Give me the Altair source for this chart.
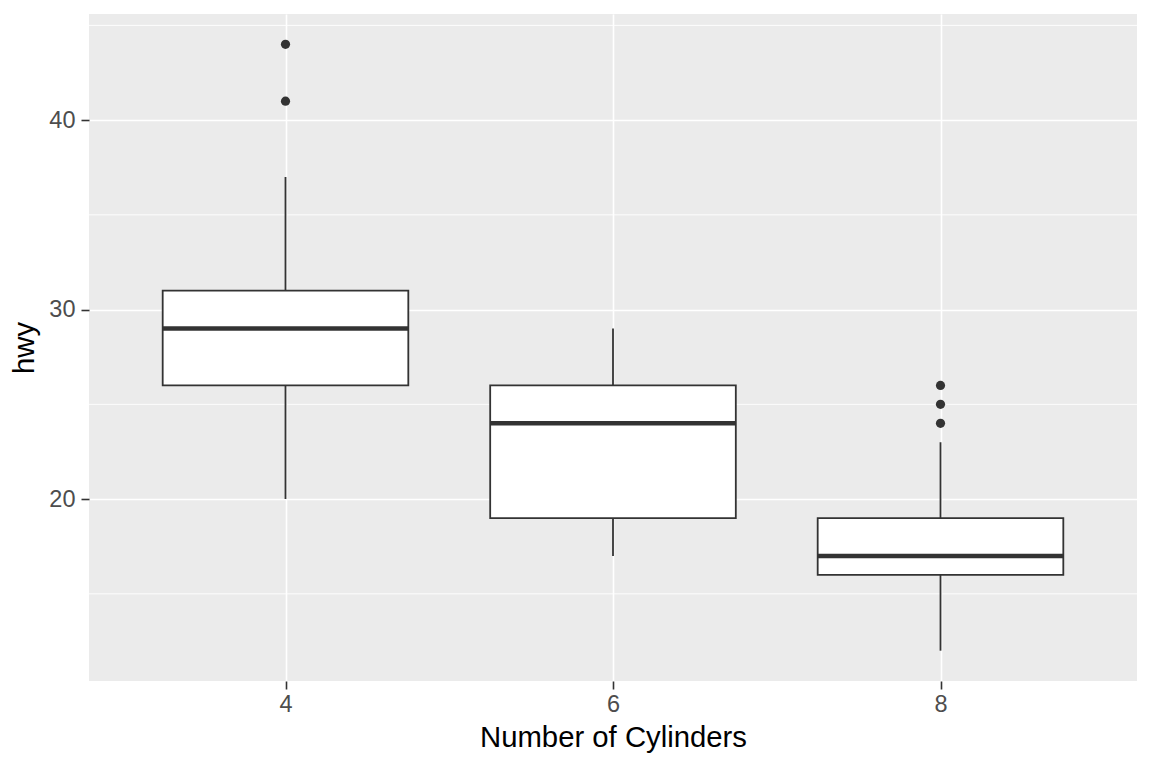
import altair as alt
import pandas as pd

# --- data (hwy by number of cylinders) ---
cyl = [4, 6, 8]
whisker_low = [20, 17, 12]
q1 = [26, 19, 16]
median = [29, 24, 17]
q3 = [31, 26, 19]
whisker_high = [37, 29, 23]

outlier_cyl = [4, 4, 8, 8, 8]
outlier_hwy = [41, 44, 24, 25, 26]

x_ticks = [4, 6, 8]
y_major = [20, 30, 40]
y_minor = [15, 25, 35, 45]

boxes = pd.DataFrame({
    "cyl": cyl, "lower": whisker_low, "q1": q1,
    "median": median, "q3": q3, "upper": whisker_high,
})
outliers = pd.DataFrame({"cyl": outlier_cyl, "hwy": outlier_hwy})
minor = pd.DataFrame({"y": y_minor})

DARK = "#333333"
xscale = alt.Scale(domain=[2.8, 9.2], nice=False, zero=False)
yscale = alt.Scale(domain=[10.4, 45.6], nice=False, zero=False)

xaxis = alt.Axis(values=x_ticks, title="Number of Cylinders", format="d",
                 grid=True, gridColor="white", gridWidth=1.6,
                 domain=False, ticks=True, tickSize=8, tickColor=DARK, tickWidth=1.6,
                 labelFont="Liberation Sans", labelFontSize=23.5, labelColor="#4D4D4D",
                 labelPadding=3, titleFont="Liberation Sans", titleFontSize=29.3,
                 titleFontWeight="normal", titleColor="black", titlePadding=8)
yaxis = alt.Axis(values=y_major, title="hwy", format="d",
                 grid=True, gridColor="white", gridWidth=1.6,
                 domain=False, ticks=True, tickSize=8, tickColor=DARK, tickWidth=1.6,
                 labelFont="Liberation Sans", labelFontSize=23.5, labelColor="#4D4D4D",
                 labelPadding=6, titleFont="Liberation Sans", titleFontSize=29.3,
                 titleFontWeight="normal", titleColor="black", titlePadding=9)

minor_grid = alt.Chart(minor).mark_rule(color="white", strokeWidth=0.9).encode(
    y=alt.Y("y:Q", scale=yscale, axis=yaxis),
)

whiskers = alt.Chart(boxes).mark_rule(color=DARK, strokeWidth=1.8).encode(
    x=alt.X("cyl:Q", scale=xscale, axis=xaxis),
    y=alt.Y("lower:Q", scale=yscale, axis=yaxis),
    y2="upper:Q",
)

box = alt.Chart(boxes).transform_calculate(
    xl="datum.cyl - 0.75", xr="datum.cyl + 0.75"
).mark_bar(fill="white", stroke=DARK, strokeWidth=1.8).encode(
    x=alt.X("xl:Q", scale=xscale, axis=xaxis),
    x2="xr:Q",
    y=alt.Y("q1:Q", scale=yscale, axis=yaxis),
    y2="q3:Q",
)

med = alt.Chart(boxes).transform_calculate(
    xl="datum.cyl - 0.75", xr="datum.cyl + 0.75"
).mark_rule(color=DARK, strokeWidth=4.5).encode(
    x=alt.X("xl:Q", scale=xscale, axis=xaxis),
    x2="xr:Q",
    y=alt.Y("median:Q", scale=yscale, axis=yaxis),
)

pts = alt.Chart(outliers).mark_circle(color=DARK, opacity=1, size=85).encode(
    x=alt.X("cyl:Q", scale=xscale, axis=xaxis),
    y=alt.Y("hwy:Q", scale=yscale, axis=yaxis),
)

chart = alt.layer(minor_grid, whiskers, box, med, pts).properties(
    width=1048, height=667,
    padding={"left": 89, "top": 14, "right": 15, "bottom": 87},
    autosize=alt.AutoSizeParams(type="none"),
    background="white",
).configure_view(fill="#EBEBEB", stroke=None)

chart.save("out.html", embed_options={"renderer": "svg", "actions": False})
